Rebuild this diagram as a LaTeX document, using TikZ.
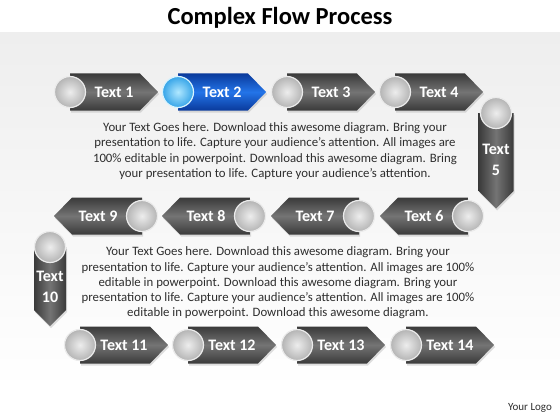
\documentclass[tikz,border=0pt]{standalone}
\usepackage{fontspec}
\setmainfont{Carlito}
\usetikzlibrary{shadows}
\definecolor{gdark}{HTML}{3A3A3A}
\definecolor{gmid}{HTML}{747474}
\definecolor{bdark}{HTML}{0A3A9C}
\definecolor{bmid}{HTML}{2374E8}
\definecolor{ballin}{HTML}{EDEDED}
\definecolor{ballout}{HTML}{B4B4B4}
\definecolor{bballin}{HTML}{B0E8FF}
\definecolor{bballout}{HTML}{36A4E8}
\definecolor{bgtop}{HTML}{EEEEEE}
\definecolor{txtgray}{HTML}{2E2E2E}
\tikzset{
  garrow/.style={top color=gdark, bottom color=gdark, middle color=gmid,
    drop shadow={shadow xshift=1pt, shadow yshift=-2pt, opacity=0.25}},
  barrow/.style={top color=bdark, bottom color=bdark, middle color=bmid,
    drop shadow={shadow xshift=1pt, shadow yshift=-2pt, opacity=0.25}},
  gvarrow/.style={left color=gdark, right color=gdark, middle color=gmid,
    drop shadow={shadow xshift=1pt, shadow yshift=-2pt, opacity=0.25}},
  ballst/.style={circle, minimum size=31pt, inner sep=0pt, inner color=ballin,
    outer color=ballout, draw=white!92!black, line width=1.2pt},
  bballst/.style={circle, minimum size=31pt, inner sep=0pt, inner color=bballin,
    outer color=bballout, draw=white!85!cyan, line width=1.2pt},
  lbl/.style={text=white, font=\fontsize{16}{18}\selectfont\bfseries, inner sep=0pt},
  vlbl/.style={text=white, font=\fontsize{16}{21}\selectfont\bfseries, inner sep=0pt, align=center},
  para/.style={text=txtgray, font=\fontsize{12.8}{15.2}\selectfont, align=center, inner sep=0pt},
}
% right-pointing arrow: name, circle x, circle y, label, arrow style, ball style
\newcommand\myRarrow[6]{%
  \path[#5] (#2,#3-18.5) -- (#2+70,#3-18.5) -- (#2+88,#3) -- (#2+70,#3+18.5) -- (#2,#3+18.5) -- cycle;
  \node[lbl] (#1) at (#2+44,#3) {#4};
  \node[#6] (#1c) at (#2,#3) {};
}
% left-pointing arrow
\newcommand\myLarrow[4]{%
  \path[garrow] (#2,#3-18.5) -- (#2-70,#3-18.5) -- (#2-88,#3) -- (#2-70,#3+18.5) -- (#2,#3+18.5) -- cycle;
  \node[lbl] (#1) at (#2-44,#3) {#4};
  \node[ballst] (#1c) at (#2,#3) {};
}
% downward arrow: name, x, circle y, body end y, half width, label
\newcommand\myDarrow[6]{%
  \path[gvarrow] (#2-#5,#3) -- (#2+#5,#3) -- (#2+#5,#4) -- (#2,#4+#5) -- (#2-#5,#4) -- cycle;
  \node[vlbl] (#1) at (#2,#3/2+#4/2+8) {#6};
  \node[ballst] (#1c) at (#2,#3) {};
}
\begin{document}
\begin{tikzpicture}[x=1pt,y=-1pt]
\useasboundingbox (0,0) rectangle (560,420);
\fill[white] (0,0) rectangle (560,420);
\shade[top color=bgtop, bottom color=white] (0,33) rectangle (560,390);
\node[font=\fontsize{24.5}{28}\selectfont\bfseries, text=black, inner sep=0pt] (title) at (280,18) {Complex Flow Process};
% row 1
\myRarrow{t1}{70}{92}{Text 1}{garrow}{ballst}
\myRarrow{t2}{178}{92}{Text 2}{barrow}{bballst}
\myRarrow{t3}{287}{92}{Text 3}{garrow}{ballst}
\myRarrow{t4}{395}{92}{Text 4}{garrow}{ballst}
% vertical 5
\myDarrow{t5}{496}{113}{191}{17.5}{Text\\5}
% row 2
\myLarrow{t6}{468}{216}{Text 6}
\myLarrow{t7}{359}{216}{Text 7}
\myLarrow{t8}{250}{216}{Text 8}
\myLarrow{t9}{142}{216}{Text 9}
% vertical 10
\myDarrow{t10}{50}{247}{310}{16}{Text\\10}
% row 3
\myRarrow{t11}{80}{345}{Text 11}{garrow}{ballst}
\myRarrow{t12}{188}{345}{Text 12}{garrow}{ballst}
\myRarrow{t13}{297}{345}{Text 13}{garrow}{ballst}
\myRarrow{t14}{406}{345}{Text 14}{garrow}{ballst}
% paragraphs
\node[para] (p1) at (275,151) {Your Text Goes here. Download this awesome diagram. Bring your\\
presentation to life. Capture your audience’s attention. All images are\\
100\% editable in powerpoint. Download this awesome diagram. Bring\\
your presentation to life. Capture your audience’s attention.};
\node[para] (p2) at (278,283) {Your Text Goes here. Download this awesome diagram. Bring your\\
presentation to life. Capture your audience’s attention. All images are 100\%\\
editable in powerpoint. Download this awesome diagram. Bring your\\
presentation to life. Capture your audience’s attention. All images are 100\%\\
editable in powerpoint. Download this awesome diagram.};
\node[font=\fontsize{11}{13}\selectfont, text=txtgray, inner sep=0pt] (logo) at (530,408) {Your Logo};
\end{tikzpicture}
\end{document}
